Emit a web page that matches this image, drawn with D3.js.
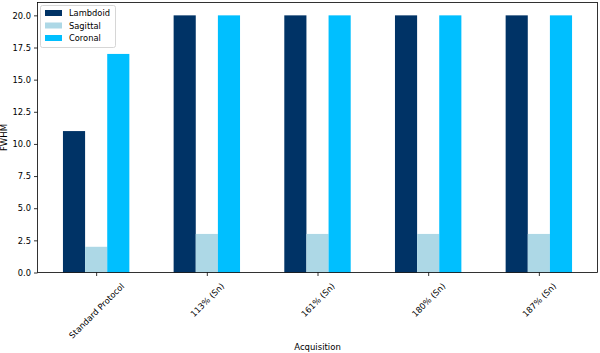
<!DOCTYPE html>
<html><head><meta charset="utf-8">
<script src="https://cdn.jsdelivr.net/npm/d3@7"></script>
<style>body{margin:0;background:#fff}text{font-family:"DejaVu Sans",sans-serif}</style>
</head><body><svg id="c" width="600" height="353"></svg>
<script>
const categories = ["Standard Protocol","113% (Sn)","161% (Sn)","180% (Sn)","187% (Sn)"];
const seriesNames = ["Lambdoid","Sagittal","Coronal"];
const lambdoid = [11,20,20,20,20];
const sagittal = [2,3,3,3,3];
const coronal = [17,20,20,20,20];
const yTicks = [0,2.5,5,7.5,10,12.5,15,17.5,20];
const colors = ["#003366","#add8e6","#00bfff"];
const series = [lambdoid, sagittal, coronal];

const svg = d3.select("#c");
const L=37.5,R=597.5,T=2.5,B=272.5;
const x = d3.scaleLinear().domain([-0.53,4.53]).range([L,R]);
const y = d3.scaleLinear().domain([0,21]).range([B,T]);
const bw = 0.2;

series.forEach((s,si)=>{
  svg.append("g").selectAll("rect").data(s).join("rect")
    .attr("x",(d,i)=>x(i+(si-1)*bw-bw/2))
    .attr("width",(d,i)=>x(i+(si-1)*bw+bw/2)-x(i+(si-1)*bw-bw/2))
    .attr("y",d=>y(d)).attr("height",d=>y(0)-y(d))
    .attr("fill",colors[si]);
});

const yAxis = svg.append("g").attr("transform",`translate(${L},0)`)
  .call(d3.axisLeft(y).tickValues(yTicks).tickFormat(d3.format(".1f")).tickSize(3.5).tickPadding(3));
const xAxis = svg.append("g").attr("transform",`translate(0,${B})`)
  .call(d3.axisBottom(x).tickValues(d3.range(categories.length)).tickFormat(i=>categories[i]).tickSize(3.5).tickPadding(3));
[yAxis,xAxis].forEach(a=>{a.selectAll("text").attr("font-size",8.3).attr("fill","#000");a.selectAll("line").attr("stroke","#000").attr("stroke-width",0.8);a.select(".domain").remove();});
const fs=8.3;
xAxis.selectAll("text").attr("text-anchor","middle").attr("y",0).attr("x",0).attr("dy","0.35em")
 .attr("transform",function(){const w=this.getComputedTextLength();const half=(w+fs*1.1)/(2*Math.SQRT2);return `translate(0,${9+half}) rotate(-45)`;});

svg.append("rect").attr("x",L).attr("y",T).attr("width",R-L).attr("height",B-T).attr("fill","none").attr("stroke","#000").attr("stroke-width",0.8);

svg.append("text").attr("x",(L+R)/2).attr("y",350).attr("text-anchor","middle").attr("font-size",8.5).text("Acquisition");
svg.append("text").attr("transform",`translate(7,${(T+B)/2}) rotate(-90)`).attr("text-anchor","middle").attr("font-size",8.5).text("FWHM");

const lg = svg.append("g");
lg.append("rect").attr("x",40.5).attr("y",5.5).attr("width",75).attr("height",42).attr("rx",2).attr("fill","#fff").attr("fill-opacity",0.8).attr("stroke","#ccc").attr("stroke-width",0.8);
seriesNames.forEach((n,i)=>{
  lg.append("rect").attr("x",45).attr("y",10+i*12.5).attr("width",17).attr("height",6).attr("fill",colors[i]);
  lg.append("text").attr("x",69).attr("y",16+i*12.5).attr("font-size",8.3).text(n);
});
</script></body></html>
